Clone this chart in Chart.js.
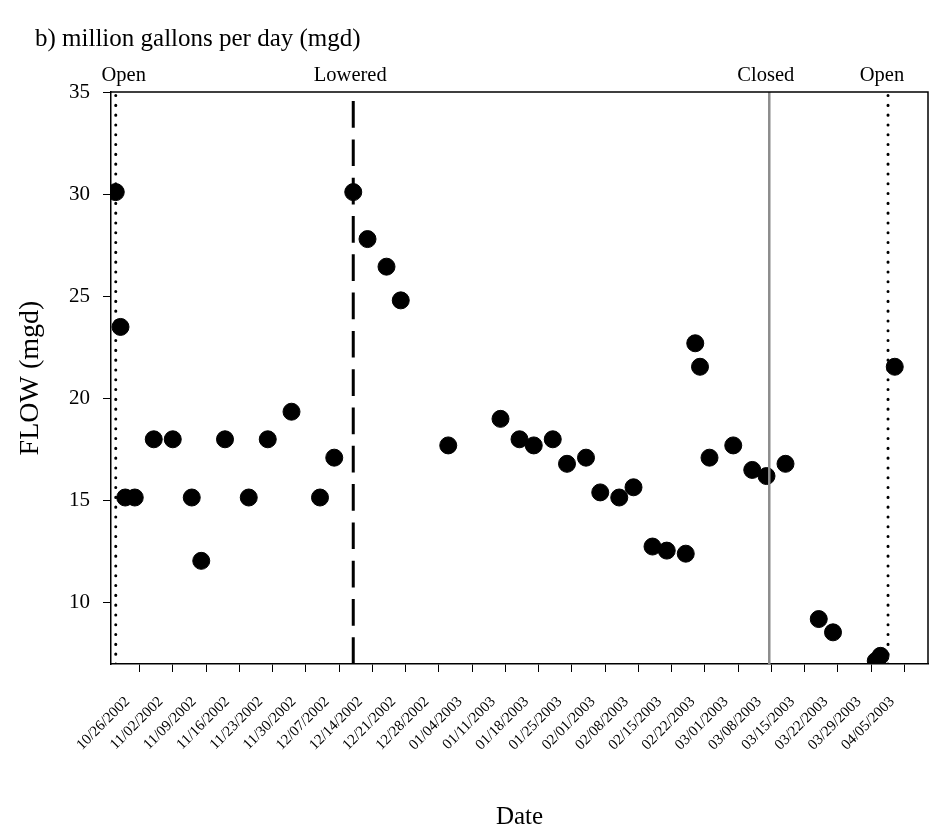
<!DOCTYPE html>
<html>
<head>
<meta charset="utf-8">
<title>Flow (mgd)</title>
<script src="https://cdn.jsdelivr.net/npm/chart.js@4.4.1/dist/chart.umd.min.js"></script>
<style>
  html, body { margin: 0; padding: 0; background: #fff; }
  canvas { display: block; }
</style>
</head>
<body>
<canvas id="flowChart" width="941" height="838"></canvas>
<script>
// Sampling dates and measured flow, million gallons per day
const sampleDates = [
  '10/21/2002', '10/22/2002', '10/23/2002', '10/25/2002', '10/29/2002',
  '11/02/2002', '11/06/2002', '11/08/2002', '11/13/2002', '11/18/2002',
  '11/22/2002', '11/27/2002', '12/03/2002', '12/06/2002', '12/10/2002',
  '12/13/2002', '12/17/2002', '12/20/2002', '12/30/2002', '01/10/2003',
  '01/14/2003', '01/17/2003', '01/21/2003', '01/24/2003', '01/28/2003',
  '01/31/2003', '02/04/2003', '02/07/2003', '02/11/2003', '02/14/2003',
  '02/18/2003', '02/20/2003', '02/21/2003', '02/23/2003', '02/28/2003',
  '03/04/2003', '03/07/2003', '03/11/2003', '03/18/2003', '03/21/2003',
  '03/30/2003', '03/31/2003', '04/03/2003'
];
const flowMgd = [
  30.1, 23.5, 15.15, 15.15, 18.0,
  18.0, 15.15, 12.05, 18.0, 15.15,
  18.0, 19.35, 15.15, 17.1, 30.1,
  27.8, 26.45, 24.8, 17.7, 19.0,
  18.0, 17.7, 18.0, 16.8, 17.1,
  15.4, 15.15, 15.65, 12.75, 12.55,
  12.4, 22.7, 21.55, 17.1, 17.7,
  16.5, 16.2, 16.8, 9.2, 8.55,
  7.15, 7.4, 21.55
];

// Weekly date ticks on the x axis and the flow ticks on the y axis
const tickLabels = [
  '10/26/2002', '11/02/2002', '11/09/2002', '11/16/2002', '11/23/2002',
  '11/30/2002', '12/07/2002', '12/14/2002', '12/21/2002', '12/28/2002',
  '01/04/2003', '01/11/2003', '01/18/2003', '01/25/2003', '02/01/2003',
  '02/08/2003', '02/15/2003', '02/22/2003', '03/01/2003', '03/08/2003',
  '03/15/2003', '03/22/2003', '03/29/2003', '04/05/2003'
];
const flowTicks = [10, 15, 20, 25, 30, 35];

// Gate operations marked as vertical lines
const eventDates = ['10/21/2002', '12/10/2002', '03/07/2003 14:00', '04/01/2003 14:00'];
const eventLabels = ['Open', 'Lowered', 'Closed', 'Open'];

// Axis extents
const dateRange = ['10/20/2002', '04/10/2003'];
const flowRange = [7, 35];

const FONT = '"Liberation Serif", "Times New Roman", serif';
const EPOCH = Date.UTC(2002, 9, 26);

// "MM/DD/YYYY [hh:mm]" -> days since 10/26/2002
function toDay(s) {
  const [datePart, timePart] = s.split(' ');
  const [m, d, y] = datePart.split('/').map(Number);
  let ms = Date.UTC(y, m - 1, d);
  if (timePart) {
    const [hh, mm] = timePart.split(':').map(Number);
    ms += (hh * 60 + mm) * 60000;
  }
  return (ms - EPOCH) / 864e5;
}

const lineStyles = {
  Open:    { color: '#000000', width: 3,   dash: [0.1, 9.7],   cap: 'round' },
  Lowered: { color: '#000000', width: 3,   dash: [26.7, 11.6], cap: 'butt'  },
  Closed:  { color: '#8c8c8c', width: 2.5, dash: [],           cap: 'butt'  }
};
const labelShift = [8, -3, -3.5, -6];

const eventMarks = {
  id: 'eventMarks',
  afterDatasetsDraw(chart) {
    const { ctx, chartArea: a, scales: { x } } = chart;
    ctx.save();
    ctx.beginPath();
    ctx.rect(a.left, a.top, a.right - a.left, a.bottom - a.top);
    ctx.clip();
    eventDates.forEach((d, i) => {
      const px = x.getPixelForValue(toDay(d));
      const st = lineStyles[eventLabels[i]];
      ctx.strokeStyle = st.color;
      ctx.lineWidth = st.width;
      ctx.lineCap = st.cap;
      ctx.setLineDash(st.dash);
      ctx.beginPath();
      ctx.moveTo(px, a.bottom);
      ctx.lineTo(px, a.top);
      ctx.stroke();
    });
    ctx.restore();

    ctx.save();
    ctx.font = '20.5px ' + FONT;
    ctx.fillStyle = '#000';
    ctx.textAlign = 'center';
    ctx.textBaseline = 'alphabetic';
    eventDates.forEach((d, i) => {
      const px = x.getPixelForValue(toDay(d));
      ctx.fillText(eventLabels[i], px + labelShift[i], a.top - 11);
    });
    ctx.restore();
  }
};

// Top and right edges of the plot box, plus the panel heading
const frameAndHeading = {
  id: 'frameAndHeading',
  afterDraw(chart) {
    const { ctx, chartArea: a } = chart;
    ctx.save();
    ctx.strokeStyle = '#000';
    ctx.lineWidth = 1.5;
    ctx.beginPath();
    ctx.moveTo(a.left, a.top);
    ctx.lineTo(a.right, a.top);
    ctx.lineTo(a.right, a.bottom);
    ctx.stroke();
    ctx.font = '25px ' + FONT;
    ctx.fillStyle = '#000';
    ctx.textAlign = 'left';
    ctx.textBaseline = 'alphabetic';
    ctx.fillText('b) million gallons per day (mgd)', 35, 46);
    ctx.restore();
  }
};

new Chart(document.getElementById('flowChart'), {
  type: 'scatter',
  data: {
    datasets: [{
      data: sampleDates.map((d, i) => ({ x: toDay(d), y: flowMgd[i] })),
      backgroundColor: '#000',
      borderColor: '#000',
      borderWidth: 1,
      pointRadius: 8.5,
      pointHoverRadius: 8.5,
      clip: 0
    }]
  },
  options: {
    responsive: false,
    animation: false,
    devicePixelRatio: 1,
    layout: { padding: { top: 92, right: 13, left: 0, bottom: 0 } },
    plugins: {
      legend: { display: false },
      tooltip: { enabled: false },
      title: { display: false }
    },
    scales: {
      x: {
        type: 'linear',
        min: toDay(dateRange[0]),
        max: toDay(dateRange[1]),
        afterBuildTicks: s => { s.ticks = tickLabels.map(l => ({ value: toDay(l) })); },
        afterFit: s => { s.height = 838 - 664; },
        ticks: {
          callback: (v, i) => tickLabels[i],
          autoSkip: false,
          minRotation: 45,
          maxRotation: 45,
          labelOffset: -12,
          padding: 21,
          color: '#000',
          font: { family: FONT, size: 15 }
        },
        grid: { drawOnChartArea: false, drawTicks: true, tickLength: 8, tickColor: '#000', tickWidth: 1 },
        border: { display: true, color: '#000', width: 1.5 },
        title: {
          display: true,
          text: 'Date',
          color: '#000',
          font: { family: FONT, size: 25 },
          padding: { top: 0, bottom: 6 }
        }
      },
      y: {
        min: flowRange[0],
        max: flowRange[1],
        afterBuildTicks: s => { s.ticks = flowTicks.map(v => ({ value: v })); },
        afterFit: s => { s.width = 111; },
        ticks: {
          padding: 13,
          color: '#000',
          font: { family: FONT, size: 21 }
        },
        grid: { drawOnChartArea: false, drawTicks: true, tickLength: 8, tickColor: '#000', tickWidth: 1 },
        border: { display: true, color: '#000', width: 1.5 },
        title: {
          display: true,
          text: 'FLOW (mgd)',
          color: '#000',
          font: { family: FONT, size: 28 },
          padding: { top: 14, bottom: 0 }
        }
      }
    }
  },
  plugins: [eventMarks, frameAndHeading]
});
</script>
</body>
</html>
